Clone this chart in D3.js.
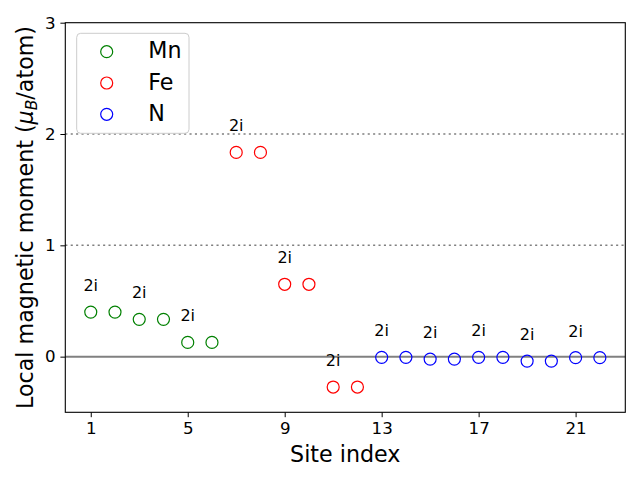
<!DOCTYPE html>
<html>
<head>
<meta charset="utf-8">
<script src="https://cdn.jsdelivr.net/npm/d3@7"></script>
<style>
  html, body { margin: 0; padding: 0; background: #fff; }
  svg { display: block; font-family: "DejaVu Sans", sans-serif; }
</style>
</head>
<body>
<svg id="chart" width="640" height="480"></svg>
<script>
// values
const mnSites = [1, 2, 3, 4, 5, 6];
const mnMoments = [0.40, 0.40, 0.335, 0.335, 0.128, 0.128];
const feSites = [7, 8, 9, 10, 11, 12];
const feMoments = [1.835, 1.835, 0.65, 0.65, -0.273, -0.273];
const nSites = [13, 14, 15, 16, 17, 18, 19, 20, 21, 22];
const nMoments = [-0.006, -0.006, -0.022, -0.022, -0.006, -0.006, -0.040, -0.040, -0.009, -0.009];

const labelSites = [1, 3, 5, 7, 9, 11, 13, 15, 17, 19, 21];
const labelText = '2i';

const xTicks = [1, 5, 9, 13, 17, 21];
const yTicks = [0, 1, 2, 3];
const refLinesDotted = [1, 2];

const series = [
  { name: 'Mn', color: '#008000', sites: mnSites, values: mnMoments },
  { name: 'Fe', color: '#ff0000', sites: feSites, values: feMoments },
  { name: 'N', color: '#0000ff', sites: nSites, values: nMoments }
];

const svg = d3.select('#chart');
const L = 65.3, R = 625.3, T = 22.7, B = 412.3;

const x = d3.scaleLinear().domain([-0.05, 23.05]).range([L, R]);
const y = d3.scaleLinear().domain([-0.5, 3]).range([B, T]);

// reference lines
svg.append('g').selectAll('line').data(refLinesDotted).join('line')
  .attr('x1', L).attr('x2', R)
  .attr('y1', d => y(d)).attr('y2', d => y(d))
  .attr('stroke', '#808080').attr('stroke-width', 1.5)
  .attr('stroke-dasharray', '2.1,3.3');

svg.append('line')
  .attr('x1', L).attr('x2', R).attr('y1', y(0)).attr('y2', y(0))
  .attr('stroke', '#808080').attr('stroke-width', 2);

// points
const allPts = [];
series.forEach(s => s.sites.forEach((site, i) => allPts.push({ site, v: s.values[i], color: s.color })));

svg.append('g').selectAll('circle').data(allPts).join('circle')
  .attr('cx', d => x(d.site)).attr('cy', d => y(d.v))
  .attr('r', 6).attr('fill', 'none')
  .attr('stroke', d => d.color).attr('stroke-width', 1.2);

// "2i" labels above each pair
const valueAt = site => allPts.find(p => p.site === site).v;
svg.append('g').selectAll('text').data(labelSites).join('text')
  .attr('x', d => x(d))
  .attr('y', d => y(valueAt(d) + 0.25) + 6.8)
  .attr('text-anchor', 'middle')
  .attr('font-size', '16px')
  .attr('fill', '#000')
  .text(labelText);

// axes
const xAxis = svg.append('g').attr('transform', `translate(0,${B})`)
  .call(d3.axisBottom(x).tickValues(xTicks).tickSize(4.9).tickPadding(5.3).tickSizeOuter(0));
const yAxis = svg.append('g').attr('transform', `translate(${L},0)`)
  .call(d3.axisLeft(y).tickValues(yTicks).tickFormat(d3.format('d')).tickSize(4.9).tickPadding(4.9).tickSizeOuter(0));

[xAxis, yAxis].forEach(a => {
  a.select('.domain').remove();
  a.selectAll('line').attr('stroke', '#000').attr('stroke-width', 1);
  a.selectAll('text').attr('font-size', '16.67px').attr('fill', '#000')
    .attr('font-family', '"DejaVu Sans", sans-serif');
});

svg.append('rect')
  .attr('x', L).attr('y', T).attr('width', R - L).attr('height', B - T)
  .attr('fill', 'none').attr('stroke', '#000').attr('stroke-width', 1.1);

// axis labels
svg.append('text')
  .attr('x', (L + R) / 2).attr('y', 461.7)
  .attr('text-anchor', 'middle').attr('font-size', '22.2px')
  .text('Site index');

const yl = svg.append('text')
  .attr('transform', `translate(32.5,${(T + B) / 2}) rotate(-90)`)
  .attr('text-anchor', 'middle').attr('font-size', '22.2px');
yl.append('tspan').text('Local magnetic moment (');
yl.append('tspan').attr('font-style', 'italic').text('μ');
yl.append('tspan').attr('font-style', 'italic').attr('font-size', '15.5px').attr('dy', 4).text('B');
yl.append('tspan').attr('dy', -4).text('/atom)');

// legend
const lg = svg.append('g');
lg.append('rect')
  .attr('x', 76.7).attr('y', 33.3).attr('width', 112.3).attr('height', 100)
  .attr('rx', 4).attr('ry', 4)
  .attr('fill', '#fff').attr('fill-opacity', 0.8)
  .attr('stroke', '#cccccc').attr('stroke-width', 1);

const items = lg.selectAll('g.item').data(series).join('g')
  .attr('class', 'item')
  .attr('transform', (d, i) => `translate(0,${51.7 + i * 31.3})`);
items.append('circle')
  .attr('cx', 106.7).attr('cy', 0).attr('r', 6)
  .attr('fill', 'none').attr('stroke', d => d.color).attr('stroke-width', 1.2);
items.append('text')
  .attr('x', 148.3).attr('y', 6.6)
  .attr('font-size', '22.2px').attr('fill', '#000')
  .text(d => d.name);
</script>
</body>
</html>
